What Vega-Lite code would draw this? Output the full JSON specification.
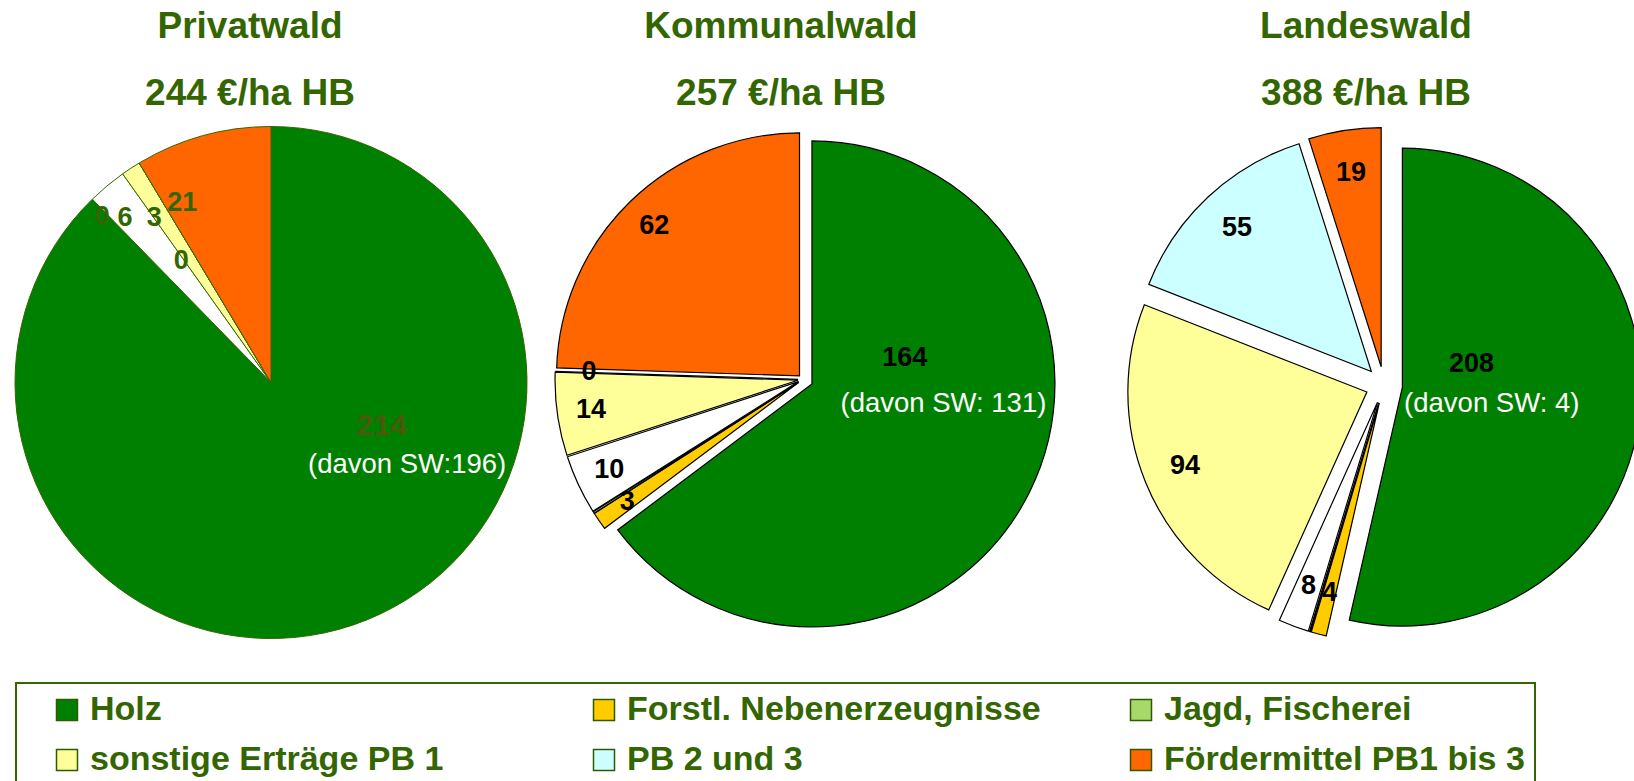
{
  "$schema": "https://vega.github.io/schema/vega-lite/v6.json",
  "padding": {"left": 0, "top": 8, "right": 0, "bottom": 0},
  "background": "white",
  "data": {"values": [
    {"w": "Privatwald", "k": "Holz", "v": 214, "ord": 1, "lbl": "214", "sw": "(davon SW:196)"},
    {"w": "Privatwald", "k": "Forstl. Nebenerzeugnisse", "v": 0, "ord": 2, "lbl": "0"},
    {"w": "Privatwald", "k": "Jagd, Fischerei", "v": 0, "ord": 3, "lbl": ""},
    {"w": "Privatwald", "k": "übrige", "v": 6, "ord": 4, "lbl": "6"},
    {"w": "Privatwald", "k": "sonstige Erträge PB 1", "v": 3, "ord": 5, "lbl": "3"},
    {"w": "Privatwald", "k": "PB 2 und 3", "v": 0, "ord": 6, "lbl": "0"},
    {"w": "Privatwald", "k": "Fördermittel PB1 bis 3", "v": 21, "ord": 7, "lbl": "21"},
    {"w": "Kommunalwald", "k": "Holz", "v": 164, "ord": 1, "lbl": "164", "sw": "(davon SW: 131)"},
    {"w": "Kommunalwald", "k": "Forstl. Nebenerzeugnisse", "v": 3, "ord": 2, "lbl": "3"},
    {"w": "Kommunalwald", "k": "Jagd, Fischerei", "v": 0.3, "ord": 3, "lbl": ""},
    {"w": "Kommunalwald", "k": "übrige", "v": 10, "ord": 4, "lbl": "10"},
    {"w": "Kommunalwald", "k": "sonstige Erträge PB 1", "v": 14, "ord": 5, "lbl": "14"},
    {"w": "Kommunalwald", "k": "PB 2 und 3", "v": 0, "ord": 6, "lbl": "0"},
    {"w": "Kommunalwald", "k": "Fördermittel PB1 bis 3", "v": 62, "ord": 7, "lbl": "62"},
    {"w": "Landeswald", "k": "Holz", "v": 208, "ord": 1, "lbl": "208", "sw": "(davon SW: 4)"},
    {"w": "Landeswald", "k": "Forstl. Nebenerzeugnisse", "v": 4, "ord": 2, "lbl": "4"},
    {"w": "Landeswald", "k": "Jagd, Fischerei", "v": 0.3, "ord": 3, "lbl": ""},
    {"w": "Landeswald", "k": "übrige", "v": 8, "ord": 4, "lbl": "8"},
    {"w": "Landeswald", "k": "sonstige Erträge PB 1", "v": 94, "ord": 5, "lbl": "94"},
    {"w": "Landeswald", "k": "PB 2 und 3", "v": 55, "ord": 6, "lbl": "55"},
    {"w": "Landeswald", "k": "Fördermittel PB1 bis 3", "v": 19, "ord": 7, "lbl": "19"}
  ]},
  "spacing": 0,
  "resolve": {"scale": {"theta": "independent", "color": "shared"}},
  "hconcat": [
    {
      "width": 542, "height": 523,
      "title": {"text": ["Privatwald", "244 €/ha HB"], "dx": -21},
      "transform": [{"filter": "datum.w == 'Privatwald'"}, {"joinaggregate": [{"op": "sum", "field": "v", "as": "total"}]}],
      "encoding": {
        "theta": {"field": "v", "type": "quantitative", "stack": true},
        "order": {"field": "ord", "type": "quantitative"},
        "detail": {"field": "k", "type": "nominal"}
      },
      "layer": [
        {"mark": {"type": "arc", "outerRadius": 256, "stroke": "#336600", "strokeWidth": 1},
         "encoding": {"color": {"field": "k", "type": "nominal",
           "scale": {"domain": ["Holz", "Forstl. Nebenerzeugnisse", "Jagd, Fischerei", "übrige", "sonstige Erträge PB 1", "PB 2 und 3", "Fördermittel PB1 bis 3"],
                     "range": ["#008000", "#ffcc00", "#a6d96a", "#ffffff", "#ffff99", "#ccffff", "#ff6600"]},
           "legend": {"values": ["Holz", "Forstl. Nebenerzeugnisse", "Jagd, Fischerei", "sonstige Erträge PB 1", "PB 2 und 3", "Fördermittel PB1 bis 3"],
                      "orient": "none", "legendX": 16, "legendY": 562, "columns": 3, "direction": "horizontal", "title": null}}}},
        {"mark": {"type": "text", "radius": 236, "thetaOffset": -0.024, "fill": "#336600", "font": "Liberation Sans", "fontWeight": "bold", "fontSize": 27, "align": "center", "baseline": "middle"},
         "encoding": {"text": {"condition": {"test": "datum.k == 'Forstl. Nebenerzeugnisse'", "field": "lbl"}, "value": ""}}},
        {"mark": {"type": "text", "radius": 220, "thetaOffset": -0.03, "fill": "#336600", "font": "Liberation Sans", "fontWeight": "bold", "fontSize": 27, "align": "center", "baseline": "middle"},
         "encoding": {"text": {"condition": {"test": "datum.k == 'übrige'", "field": "lbl"}, "value": ""}}},
        {"mark": {"type": "text", "radius": 202, "thetaOffset": -0.037, "fill": "#336600", "font": "Liberation Sans", "fontWeight": "bold", "fontSize": 27, "align": "center", "baseline": "middle"},
         "encoding": {"text": {"condition": {"test": "datum.k == 'sonstige Erträge PB 1'", "field": "lbl"}, "value": ""}}},
        {"mark": {"type": "text", "radius": 151, "thetaOffset": -0.096, "fill": "#336600", "font": "Liberation Sans", "fontWeight": "bold", "fontSize": 27, "align": "center", "baseline": "middle"},
         "encoding": {"text": {"condition": {"test": "datum.k == 'PB 2 und 3'", "field": "lbl"}, "value": ""}}},
        {"mark": {"type": "text", "radius": 200, "thetaOffset": -0.19, "fill": "#336600", "font": "Liberation Sans", "fontWeight": "bold", "fontSize": 27, "align": "center", "baseline": "middle"},
         "encoding": {"text": {"condition": {"test": "datum.k == 'Fördermittel PB1 bis 3'", "field": "lbl"}, "value": ""}}},
        {"mark": {"type": "text", "radius": 119, "thetaOffset": -0.813, "fill": "#4a5a0a", "font": "Liberation Sans", "fontWeight": "bold", "fontSize": 30, "align": "center", "baseline": "middle"},
         "encoding": {"text": {"condition": {"test": "datum.k == 'Holz'", "field": "lbl"}, "value": ""}}},
        {"mark": {"type": "text", "radius": 159, "thetaOffset": -0.641, "fill": "white", "font": "Liberation Sans", "fontSize": 27.5, "align": "center", "baseline": "middle"},
         "encoding": {"text": {"condition": {"test": "datum.k == 'Holz'", "field": "sw"}, "value": ""}}}
      ]
    },
    {
      "width": 522, "height": 517,
      "title": {"text": ["Kommunalwald", "257 €/ha HB"], "dx": -22},
      "transform": [{"filter": "datum.w == 'Kommunalwald'"}, {"joinaggregate": [{"op": "sum", "field": "v", "as": "total"}]}],
      "encoding": {
        "theta": {"field": "v", "type": "quantitative", "stack": true},
        "order": {"field": "ord", "type": "quantitative"},
        "detail": {"field": "k", "type": "nominal"}
      },
      "layer": [
        {"mark": {"type": "arc", "outerRadius": 243, "stroke": "black", "strokeWidth": 1.2,
                  "xOffset": {"expr": "(datum.k == 'Holz' ? 10 : 5) * sin(PI * (datum.v_start + datum.v_end) / datum.total)"},
                  "yOffset": {"expr": "-(datum.k == 'Holz' ? 10 : 5) * cos(PI * (datum.v_start + datum.v_end) / datum.total)"}},
         "encoding": {"color": {"field": "k", "type": "nominal",
           "scale": {"domain": ["Holz", "Forstl. Nebenerzeugnisse", "Jagd, Fischerei", "übrige", "sonstige Erträge PB 1", "PB 2 und 3", "Fördermittel PB1 bis 3"],
                     "range": ["#008000", "#ffcc00", "#a6d96a", "#ffffff", "#ffff99", "#ccffff", "#ff6600"]},
           "legend": {"values": ["Holz", "Forstl. Nebenerzeugnisse", "Jagd, Fischerei", "sonstige Erträge PB 1", "PB 2 und 3", "Fördermittel PB1 bis 3"],
                      "orient": "none", "legendX": 16, "legendY": 562, "columns": 3, "direction": "horizontal", "title": null}}}},
        {"mark": {"type": "text", "radius": 214, "fill": "black", "font": "Liberation Sans", "fontWeight": "bold", "fontSize": 27, "align": "center", "baseline": "middle"},
         "encoding": {"text": {"condition": {"test": "datum.k != 'Holz'", "field": "lbl"}, "value": ""}}},
        {"mark": {"type": "text", "radius": 104, "thetaOffset": -0.675, "fill": "black", "font": "Liberation Sans", "fontWeight": "bold", "fontSize": 27, "align": "center", "baseline": "middle"},
         "encoding": {"text": {"condition": {"test": "datum.k == 'Holz'", "field": "lbl"}, "value": ""}}},
        {"mark": {"type": "text", "radius": 142.5, "thetaOffset": -0.293, "fill": "white", "font": "Liberation Sans", "fontSize": 27.5, "align": "center", "baseline": "middle"},
         "encoding": {"text": {"condition": {"test": "datum.k == 'Holz'", "field": "sw"}, "value": ""}}}
      ]
    },
    {
      "width": 640, "height": 528,
      "title": {"text": ["Landeswald", "388 €/ha HB"], "dx": -18},
      "transform": [{"filter": "datum.w == 'Landeswald'"}, {"joinaggregate": [{"op": "sum", "field": "v", "as": "total"}]}],
      "encoding": {
        "theta": {"field": "v", "type": "quantitative", "stack": true},
        "order": {"field": "ord", "type": "quantitative"},
        "detail": {"field": "k", "type": "nominal"}
      },
      "layer": [
        {"mark": {"type": "arc", "outerRadius": 239, "stroke": "black", "strokeWidth": 1.2,
                  "xOffset": {"expr": "18.5 * sin(PI * (datum.v_start + datum.v_end) / datum.total)"},
                  "yOffset": {"expr": "-18.5 * cos(PI * (datum.v_start + datum.v_end) / datum.total)"}},
         "encoding": {"color": {"field": "k", "type": "nominal",
           "scale": {"domain": ["Holz", "Forstl. Nebenerzeugnisse", "Jagd, Fischerei", "übrige", "sonstige Erträge PB 1", "PB 2 und 3", "Fördermittel PB1 bis 3"],
                     "range": ["#008000", "#ffcc00", "#a6d96a", "#ffffff", "#ffff99", "#ccffff", "#ff6600"]},
           "legend": {"values": ["Holz", "Forstl. Nebenerzeugnisse", "Jagd, Fischerei", "sonstige Erträge PB 1", "PB 2 und 3", "Fördermittel PB1 bis 3"],
                      "orient": "none", "legendX": 16, "legendY": 562, "columns": 3, "direction": "horizontal", "title": null}}}},
        {"mark": {"type": "text", "radius": 215, "fill": "black", "font": "Liberation Sans", "fontWeight": "bold", "fontSize": 27, "align": "center", "baseline": "middle"},
         "encoding": {"text": {"condition": {"test": "datum.k != 'Holz'", "field": "lbl"}, "value": ""}}},
        {"mark": {"type": "text", "radius": 90, "thetaOffset": -0.347, "fill": "black", "font": "Liberation Sans", "fontWeight": "bold", "fontSize": 27, "align": "center", "baseline": "middle"},
         "encoding": {"text": {"condition": {"test": "datum.k == 'Holz'", "field": "lbl"}, "value": ""}}},
        {"mark": {"type": "text", "radius": 109.4, "thetaOffset": 0.063, "fill": "white", "font": "Liberation Sans", "fontSize": 27.5, "align": "center", "baseline": "middle"},
         "encoding": {"text": {"condition": {"test": "datum.k == 'Holz'", "field": "sw"}, "value": ""}}}
      ]
    }
  ],
  "config": {
    "view": {"stroke": null},
    "title": {"font": "Liberation Sans", "fontSize": 37, "fontWeight": "bold", "color": "#336600", "lineHeight": 66.6, "offset": 8, "anchor": "middle"},
    "legend": {"labelFont": "Liberation Sans", "labelFontSize": 34, "labelFontWeight": "bold", "labelColor": "#336600",
               "symbolType": "square", "symbolSize": 441, "symbolStrokeColor": "#2f5a00", "symbolStrokeWidth": 1.5,
               "strokeColor": "#336600", "strokeWidth": 2, "fillColor": "white", "padding": 10,
               "columnPadding": 59, "rowPadding": 16, "gridAlign": "all", "symbolOffset": 24, "labelOffset": 6, "labelLimit": 700}
  }
}
